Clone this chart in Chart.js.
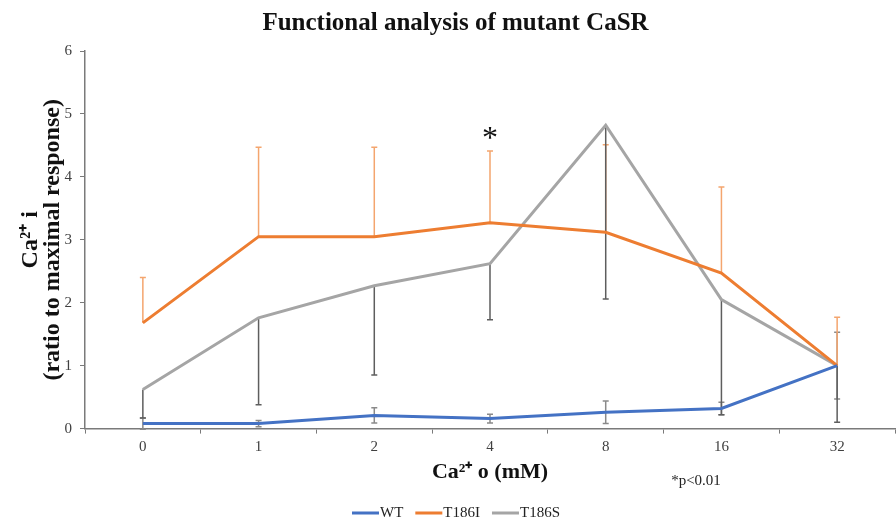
<!DOCTYPE html>
<html>
<head>
<meta charset="utf-8">
<script src="https://cdn.jsdelivr.net/npm/chart.js@4/dist/chart.umd.min.js"></script>
<style>
  html, body { margin: 0; padding: 0; background: #fff; }
  #wrap { width: 896px; height: 521px; }
</style>
</head>
<body>
<div id="wrap"><canvas id="myChart"></canvas></div>
<script>
// Ca2+ o concentrations (mM)
const labels = ["0", "1", "2", "4", "8", "16", "32"];

// mean responses
const wtValues    = [0.08, 0.08, 0.21, 0.16, 0.26, 0.32, 1.0];
const t186iValues = [1.68, 3.05, 3.05, 3.27, 3.12, 2.47, 1.0];
const t186sValues = [0.62, 1.76, 2.27, 2.62, 4.82, 2.05, 1.0];

// error bars (WT both ways, T186I upward, T186S downward)
const wtErr    = [0.09, 0.05, 0.12, 0.07, 0.18, 0.10, 0.53];
const t186iErr = [0.72, 1.42, 1.42, 1.14, 1.39, 1.37, 0.77];
const t186sErr = [0.45, 1.38, 1.42, 0.89, 2.76, 1.83, 0.90];

const serif = "'Liberation Serif', 'Times New Roman', serif";

const errorBars = {
  id: "errorBars",
  beforeDatasetsDraw(chart) {
    const { ctx, scales: { x, y } } = chart;
    const specs = [
      { vals: wtValues, err: wtErr, up: true, down: true, color: "#8a8a8a" },
      { vals: t186iValues, err: t186iErr, up: true, down: false, color: "#f4a56e" },
      { vals: t186sValues, err: t186sErr, up: false, down: true, color: "#5e5e5e" }
    ];
    ctx.save();
    ctx.lineWidth = 1.5;
    specs.forEach(s => {
      ctx.strokeStyle = s.color;
      s.vals.forEach((v, i) => {
        const px = x.getPixelForValue(i);
        const yTop = y.getPixelForValue(s.up ? v + s.err[i] : v);
        const yBot = y.getPixelForValue(s.down ? v - s.err[i] : v);
        ctx.beginPath();
        ctx.moveTo(px, yTop);
        ctx.lineTo(px, yBot);
        if (s.up) { ctx.moveTo(px - 3, yTop); ctx.lineTo(px + 3, yTop); }
        if (s.down) { ctx.moveTo(px - 3, yBot); ctx.lineTo(px + 3, yBot); }
        ctx.stroke();
      });
    });
    ctx.restore();
  }
};

// asterisk, p-value note and the bottom legend
const notes = {
  id: "notes",
  afterDraw(chart) {
    const { ctx, scales: { x, y } } = chart;
    ctx.save();
    ctx.fillStyle = "#111";
    ctx.textAlign = "center";
    ctx.textBaseline = "middle";
    ctx.font = "32px " + serif;
    ctx.fillText("*", x.getPixelForValue(3), y.getPixelForValue(4.6));
    ctx.font = "15px " + serif;
    ctx.fillStyle = "#222";
    ctx.fillText("*p<0.01", 696, 481);

    // legend
    ctx.textAlign = "left";
    let lx = 352;
    const ly = 513;
    chart.data.datasets.forEach(ds => {
      ctx.fillStyle = ds.borderColor;
      ctx.fillRect(lx, ly - 1.5, 27, 3);
      lx += 28;
      ctx.fillStyle = "#222";
      ctx.fillText(ds.label, lx, ly);
      lx += ctx.measureText(ds.label).width + 12;
    });
    ctx.restore();
  }
};

new Chart("myChart", {
  type: "line",
  data: {
    labels: labels,
    datasets: [
      { label: "WT", data: wtValues, borderColor: "#4472c4", backgroundColor: "#4472c4" },
      { label: "T186I", data: t186iValues, borderColor: "#ed7d31", backgroundColor: "#ed7d31" },
      { label: "T186S", data: t186sValues, borderColor: "#a5a5a5", backgroundColor: "#a5a5a5" }
    ]
  },
  options: {
    responsive: true,
    maintainAspectRatio: false,
    animation: false,
    elements: {
      line: { borderWidth: 3, tension: 0 },
      point: { radius: 0, hoverRadius: 0 }
    },
    layout: { padding: { left: 16, right: 1, top: 0, bottom: 35 } },
    plugins: {
      title: {
        display: true,
        text: "Functional analysis of mutant CaSR",
        color: "#111",
        font: { family: serif, size: 25, weight: "bold", lineHeight: 1.2 },
        padding: { top: 9, bottom: 12 }
      },
      legend: { display: false },
      tooltip: { enabled: false }
    },
    scales: {
      x: {
        offset: true,
        grid: { offset: true, drawOnChartArea: false, tickLength: 5, color: "#7a7a7a" },
        border: { color: "#7a7a7a", width: 1.5 },
        ticks: { color: "#404040", font: { family: serif, size: 15 }, padding: 4 },
        title: {
          display: true,
          text: "Ca²⁺ o (mM)",
          color: "#111",
          font: { family: serif, size: 22, weight: "bold", lineHeight: 1.2 },
          padding: { top: 0, bottom: 0 }
        }
      },
      y: {
        min: 0,
        max: 6,
        afterFit(scale) { scale.width = 69; },
        grid: { drawOnChartArea: false, tickLength: 5, color: "#7a7a7a" },
        border: { color: "#7a7a7a", width: 1.5 },
        ticks: { stepSize: 1, color: "#404040", font: { family: serif, size: 15 }, padding: 8 },
        title: {
          display: true,
          text: ["Ca²⁺ i", "(ratio to maximal response)"],
          color: "#111",
          font: { family: serif, size: 24, weight: "bold", lineHeight: 0.92 },
          padding: { top: 4, bottom: 0 }
        }
      }
    }
  },
  plugins: [errorBars, notes]
});
</script>
</body>
</html>
